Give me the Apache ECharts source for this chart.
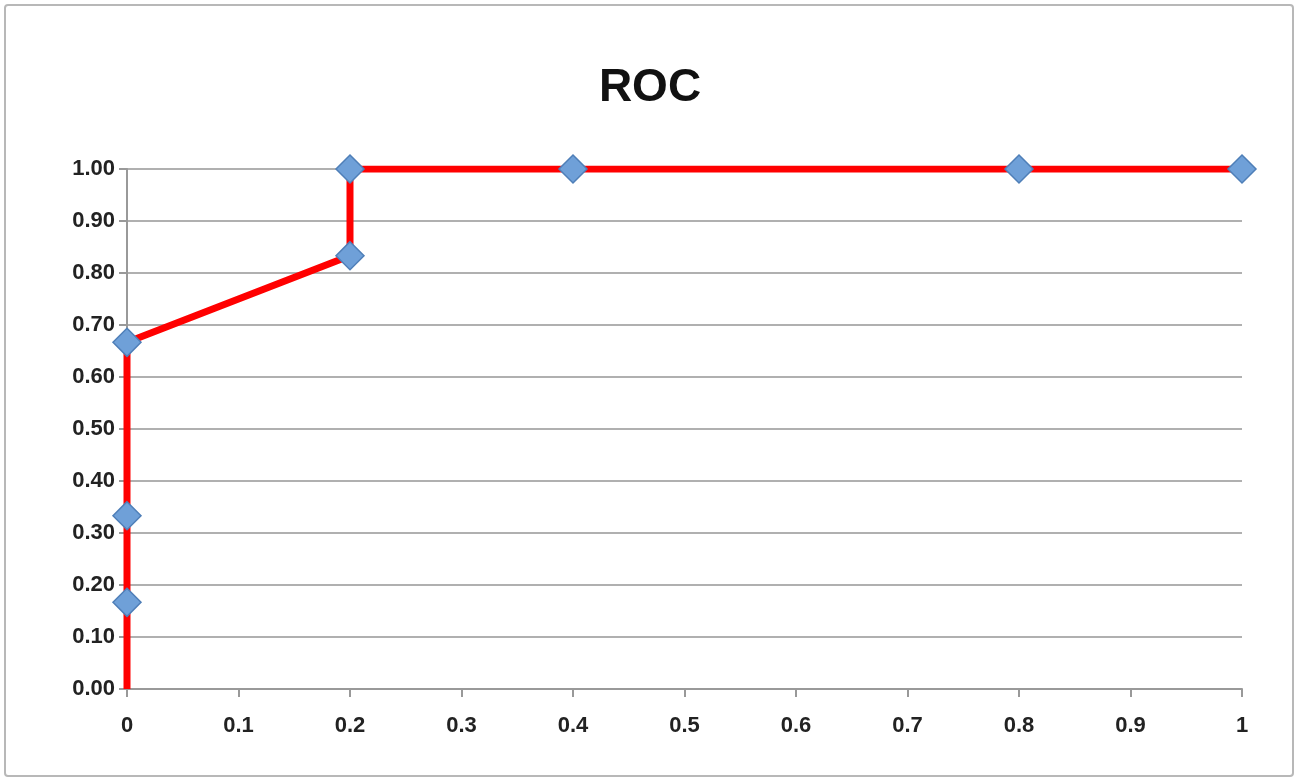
<!DOCTYPE html>
<html>
<head>
<meta charset="utf-8">
<script src="https://cdn.jsdelivr.net/npm/echarts@6/dist/echarts.min.js"></script>
<style>
  html, body { margin: 0; padding: 0; background: #fff; }
  #frame { position: absolute; left: 4px; top: 4px; width: 1290px; height: 773px; border: 2px solid #b8b8b8; border-radius: 4px; box-sizing: border-box; }
  #chart { width: 1300px; height: 783px; }
</style>
</head>
<body>
<div id="frame"></div>
<div id="chart"></div>
<script>
// false positive rate / true positive rate
var fpr = [0, 0, 0, 0, 0.2, 0.2, 0.4, 0.8, 1];
var tpr = [0, 0.1667, 0.3333, 0.6667, 0.8333, 1, 1, 1, 1];

var chart = echarts.init(document.getElementById('chart'));
var labelFont = { color: '#222', fontSize: 22, fontFamily: 'Liberation Sans', fontWeight: 'bold' };

chart.setOption({
    animation: false,
    title: {
        text: 'ROC', left: 'center', top: 60,
        textStyle: { fontSize: 46, fontWeight: 'bold', color: '#111', fontFamily: 'Liberation Sans' }
    },
    grid: { left: 127, right: 58, top: 169, bottom: 94 },
    xAxis: {
        type: 'value', min: 0, max: 1, interval: 0.1,
        axisLine: { lineStyle: { color: '#999', width: 2 } },
        axisTick: { show: true, length: 8, lineStyle: { color: '#999', width: 2 } },
        splitLine: { show: false },
        axisLabel: Object.assign({ margin: 26, formatter: function (v) { return +v.toFixed(1) + ''; } }, labelFont)
    },
    yAxis: {
        type: 'value', min: 0, max: 1, interval: 0.1,
        axisLine: { show: true, lineStyle: { color: '#999', width: 2 } },
        axisTick: { show: true, length: 8, lineStyle: { color: '#999', width: 2 } },
        splitLine: { lineStyle: { color: '#b0b0b0', width: 2 } },
        axisLabel: Object.assign({ margin: 12, formatter: function (v) { return v.toFixed(2); } }, labelFont)
    },
    series: [{
        type: 'line',
        data: fpr.map(function (x, i) {
            var p = { value: [x, tpr[i]] };
            if (i === 0) p.symbol = 'none';
            return p;
        }),
        symbol: 'diamond',
        symbolSize: 28,
        lineStyle: { color: '#ff0000', width: 7 },
        itemStyle: { color: '#6fa0d8', borderColor: '#4f7fb8', borderWidth: 1.5 }
    }]
});
</script>
</body>
</html>
